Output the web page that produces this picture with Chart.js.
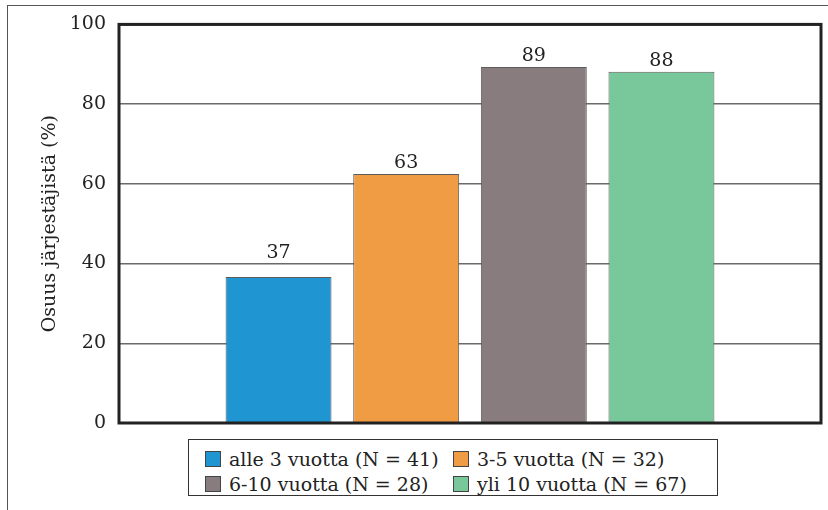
<!DOCTYPE html>
<html>
<head>
<meta charset="utf-8">
<script src="https://cdn.jsdelivr.net/npm/chart.js@4"></script>
<style>
  html, body { margin: 0; padding: 0; background: #fff; }
  #wrap { position: relative; width: 828px; height: 510px; overflow: hidden; }
  #frame { position: absolute; left: 7px; top: 5px; width: 830px; height: 520px;
           border-top: 1px solid #555; border-left: 1px solid #555; }
  canvas { position: absolute; left: 0; top: 0; }
  #legend { position: absolute; left: 188px; top: 439px; width: 530px; height: 57px;
            border: 1px solid #333; box-sizing: border-box; background: #fff;
            display: grid; grid-template-columns: 248px auto; padding: 6px 0 0 16px;
            font-family: "DejaVu Serif", serif; font-size: 19px; color: #222; }
  .item { display: flex; align-items: center; height: 25px; white-space: nowrap; }
  .sw { width: 14px; height: 14px; border: 1px solid #444; margin-right: 8px; flex: none; }
</style>
</head>
<body>
<div id="wrap">
  <div id="frame"></div>
  <canvas id="chart" width="828" height="510"></canvas>
  <div id="legend"></div>
</div>
<script>
// Ryhmät ja osuudet (%)
const groups = ['alle 3 vuotta (N = 41)', '3-5 vuotta (N = 32)', '6-10 vuotta (N = 28)', 'yli 10 vuotta (N = 67)'];
const shares = [36.6, 62.5, 89.3, 88.1];
const shareLabels = ['37', '63', '89', '88'];
const barColors = ['#1f95d2', '#f09c45', '#887c7f', '#79c89b'];
const yTicks = [0, 20, 40, 60, 80, 100];

const FONT = '"DejaVu Serif", serif';

// Arvot pylväiden yläpuolelle, siirretään ruudukkoviivan yläpuolelle jos osuu siihen
const valueLabels = {
    id: 'valueLabels',
    afterDatasetsDraw(chart) {
        const ctx = chart.ctx;
        const yScale = chart.scales.y;
        const meta = chart.getDatasetMeta(0);
        ctx.save();
        ctx.font = '19px ' + FONT;
        ctx.fillStyle = '#222';
        ctx.textAlign = 'center';
        ctx.textBaseline = 'alphabetic';
        meta.data.forEach((bar, i) => {
            let bottom = bar.y - 6;
            const top = bottom - 15;
            yTicks.forEach(v => {
                const py = yScale.getPixelForValue(v);
                if (v > 0 && v < 100 && py > top - 2 && py < bottom + 3) bottom = py - 6;
            });
            ctx.fillText(shareLabels[i], bar.x, bottom);
        });
        ctx.restore();
    }
};

// Paksu kehys piirtoalueen ympärille
const plotFrame = {
    id: 'plotFrame',
    afterDraw(chart) {
        const { left, top, right, bottom } = chart.chartArea;
        const ctx = chart.ctx;
        ctx.save();
        ctx.strokeStyle = '#222';
        ctx.lineWidth = 3;
        ctx.strokeRect(left, top, right - left, bottom - top);
        ctx.restore();
    }
};

const chart = new Chart(document.getElementById('chart'), {
    type: 'bar',
    data: {
        datasets: [{
            data: shares.map((v, i) => ({ x: i, y: v })),
            backgroundColor: barColors,
            borderColor: '#5c5c5c',
            borderWidth: 1,
            borderSkipped: 'bottom',
            categoryPercentage: 1,
            barPercentage: 0.83
        }]
    },
    options: {
        responsive: false,
        animation: false,
        layout: { padding: { left: 20, top: 24, right: 7, bottom: 87 } },
        plugins: { legend: { display: false }, tooltip: { enabled: false } },
        scales: {
            x: {
                type: 'linear',
                min: -1.25,
                max: 4.25,
                offset: false,
                grid: { offset: false },
                display: false
            },
            y: {
                min: 0,
                max: 100,
                afterBuildTicks: (scale) => { scale.ticks = yTicks.map(v => ({ value: v })); },
                afterFit: (scale) => { scale.width = 99; },
                border: { display: false },
                grid: { color: '#6a6a6a', lineWidth: 1.5, drawTicks: false },
                ticks: { padding: 13, color: '#222', font: { family: FONT, size: 19 } },
                title: {
                    display: true,
                    text: 'Osuus järjestäjistä (%)',
                    color: '#222',
                    padding: { top: 19, bottom: 0 },
                    font: { family: FONT, size: 19 }
                }
            }
        }
    },
    plugins: [valueLabels, plotFrame]
});

// Selite kahteen sarakkeeseen
const legendEl = document.getElementById('legend');
groups.forEach((g, i) => {
    const item = document.createElement('div');
    item.className = 'item';
    const sw = document.createElement('span');
    sw.className = 'sw';
    sw.style.background = chart.data.datasets[0].backgroundColor[i];
    const txt = document.createElement('span');
    txt.textContent = g;
    item.appendChild(sw);
    item.appendChild(txt);
    legendEl.appendChild(item);
});
</script>
</body>
</html>
